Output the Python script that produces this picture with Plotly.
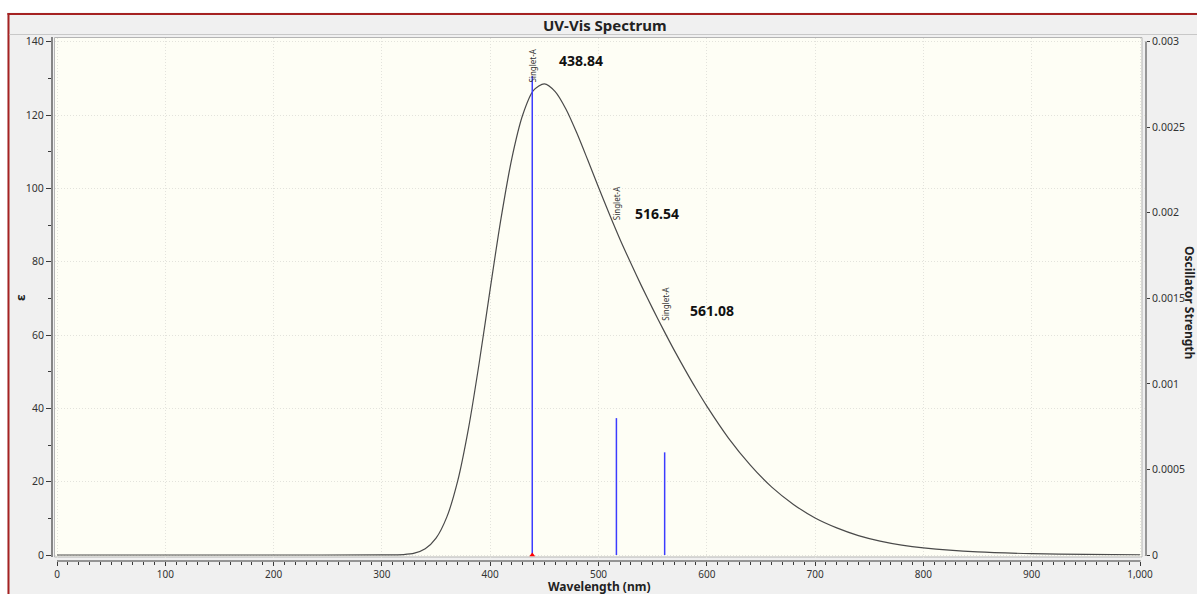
import plotly.graph_objects as go
import numpy as np

# Broadened absorption spectrum: molar absorptivity vs wavelength
wavelength_nm = [0, 100, 200, 300, 320, 330, 340, 350, 360, 370, 380, 390, 400,
                 410, 420, 430, 440, 450, 460, 470, 480, 490, 500, 510, 520, 530,
                 540, 550, 560, 570, 580, 590, 600, 620, 640, 660, 680, 700, 720,
                 740, 760, 780, 800, 850, 900, 950, 1000]
epsilon = [0, 0, 0, 0.02, 0.12, 0.5, 1.7, 4.6, 10.4, 20.2, 34.6, 52.7, 72.6,
           91.8, 108.2, 120.0, 126.7, 128.5, 126.4, 121.6, 115.1, 107.8, 100.3, 93.0, 86.0, 79.5,
           73.2, 67.2, 61.4, 55.8, 50.5, 45.4, 40.6, 31.9, 24.6, 18.5, 13.8, 10.1, 7.4,
           5.3, 3.8, 2.7, 1.95, 0.84, 0.37, 0.17, 0.07]

# Excited states: wavelength, oscillator strength, symmetry label
state_wl = [438.84, 516.54, 561.08]
osc_strength = [0.0028, 0.0008, 0.0006]
state_label = ["Singlet-A", "Singlet-A", "Singlet-A"]

# Right-axis tick labels
osc_ticks = [0, 0.0005, 0.001, 0.0015, 0.002, 0.0025, 0.003]
osc_ticktext = ["0", "0.0005", "0.001", "0.0015", "0.002", "0.0025", "0.003"]

# ---- layout geometry (pixels) ----
W, H = 1197, 594
PL, PR, PT, PB = 52, 1146, 38, 561          # plot box in pixels
X0PX, XSCALE = 57, 1.083                    # pixel of 0 nm, px per nm
Y0PX, YSCALE = 555, 513.3 / 140             # pixel of eps=0, px per unit
OSC_PER_EPS = 0.003 / 140

x_range = [(PL - X0PX) / XSCALE, (PR - X0PX) / XSCALE]
y_range = [-(PB - Y0PX) / YSCALE, (Y0PX - PT) / YSCALE]
y2_range = [v * OSC_PER_EPS for v in y_range]


def px(x):
    return (x - PL) / (PR - PL)


def py(y):
    return (PB - y) / (PB - PT)


FONT = "Noto Sans"
GRID = "#e3e3dc"
GRID_DASH = "1px,2px"

fig = go.Figure()

fig.add_trace(go.Scatter(
    x=wavelength_nm, y=epsilon, mode="lines",
    line=dict(color="#4a4a4a", width=1.2, shape="spline", smoothing=0.8),
    hoverinfo="skip", showlegend=False))

stick_x, stick_y = [], []
for w, f in zip(state_wl, osc_strength):
    stick_x += [w, w, None]
    stick_y += [0, f, None]
fig.add_trace(go.Scatter(
    x=stick_x, y=stick_y, yaxis="y2", mode="lines",
    line=dict(color="#3c3cff", width=1.5), hoverinfo="skip", showlegend=False))

fig.add_trace(go.Scatter(
    x=[state_wl[0]], y=[0], yaxis="y2", mode="markers",
    marker=dict(symbol="triangle-up", color="#ff0000", size=5),
    hoverinfo="skip", showlegend=False))

shapes = [
    # white strip and dark-red window frame
    dict(type="rect", xref="paper", yref="paper", x0=px(0), x1=px(W), y0=py(0), y1=py(12.5),
         fillcolor="#ffffff", line=dict(width=0), layer="below"),
    dict(type="rect", xref="paper", yref="paper", x0=px(0), x1=px(7), y0=py(0), y1=py(H),
         fillcolor="#ffffff", line=dict(width=0), layer="below"),
    dict(type="line", xref="paper", yref="paper", x0=px(7.5), x1=px(W), y0=py(14), y1=py(14),
         line=dict(color="#a52222", width=2)),
    dict(type="line", xref="paper", yref="paper", x0=px(8.5), x1=px(8.5), y0=py(13), y1=py(H),
         line=dict(color="#a52222", width=2)),
    # separator below the title band
    dict(type="line", xref="paper", yref="paper", x0=px(9.5), x1=px(W), y0=py(34.5), y1=py(34.5),
         line=dict(color="#c8c8c8", width=1)),
    # cream plotting panel
    dict(type="rect", xref="paper", yref="paper", x0=px(54.5), x1=px(1142), y0=py(557), y1=py(37.5),
         fillcolor="#fefef5", line=dict(color="#b4b4b4", width=1), layer="below"),
    # axis lines
    dict(type="line", xref="paper", yref="paper", x0=px(52), x1=px(52), y0=py(557), y1=py(37),
         line=dict(color="#858585", width=2)),
    dict(type="line", xref="paper", yref="paper", x0=px(1146), x1=px(1146), y0=py(556), y1=py(41.5),
         line=dict(color="#3a3a3a", width=1)),
    dict(type="line", xref="paper", yref="paper", x0=px(57), x1=px(1140.5), y0=py(561), y1=py(561),
         line=dict(color="#3a3a3a", width=1)),
]

annotations = [
    dict(text="<b>UV-Vis Spectrum</b>", xref="paper", yref="paper", x=px(605), y=py(25),
         xanchor="center", yanchor="middle", showarrow=False,
         font=dict(family=FONT, size=15, color="#222222")),
    dict(text="<b>Wavelength (nm)</b>", xref="paper", yref="paper", x=px(599), y=py(586),
         xanchor="center", yanchor="middle", showarrow=False, borderpad=0,
         font=dict(family=FONT, size=12, color="#222222")),
    dict(text="<b>ε</b>", xref="paper", yref="paper", x=px(20), y=py(298), textangle=-90,
         xanchor="center", yanchor="middle", showarrow=False,
         font=dict(family=FONT, size=13, color="#222222")),
    dict(text="<b>Oscillator Strength</b>", xref="paper", yref="paper", x=px(1190), y=py(302),
         textangle=90, xanchor="center", yanchor="middle", showarrow=False, borderpad=0,
         font=dict(family=FONT, size=12, color="#222222")),
]

# state labels sit just above the spectrum; wavelength values to their right
value_dx = [25, 17, 23]
value_y = [135.0, 93.2, 66.8]
for w, lab, dx, vy in zip(state_wl, state_label, value_dx, value_y):
    ey = float(np.interp(w, wavelength_nm, epsilon))
    annotations.append(dict(
        text=lab, x=w, y=ey, xref="x", yref="y", textangle=-90, showarrow=False,
        xanchor="center", yanchor="bottom", yshift=9,
        font=dict(family=FONT, size=8, color="#333333")))
    annotations.append(dict(
        text=f"<b>{w:.2f}</b>", x=w, y=vy, xref="x", yref="y", showarrow=False,
        xanchor="left", yanchor="middle", xshift=dx,
        font=dict(family=FONT, size=14, color="#111111")))

tickfont = dict(family=FONT, size=10.5, color="#333333")
xtickfont = dict(family=FONT, size=10, color="#333333")

fig.update_layout(
    width=W, height=H,
    margin=dict(l=PL, r=W - PR, t=PT, b=H - PB, pad=0),
    paper_bgcolor="#f0f0f0", plot_bgcolor="rgba(0,0,0,0)",
    showlegend=False,
    shapes=shapes, annotations=annotations,
    xaxis=dict(range=x_range, tick0=0, dtick=100, tickformat=",",
               ticks="outside", ticklen=4, tickcolor="#3a3a3a", tickwidth=1,
               minor=dict(ticks="outside", ticklen=3, dtick=10, tick0=0,
                          tickcolor="#3a3a3a", showgrid=False),
               showgrid=True, gridcolor=GRID, griddash=GRID_DASH, gridwidth=1,
               zeroline=False, showline=False, tickfont=xtickfont, fixedrange=True),
    yaxis=dict(range=y_range, tick0=0, dtick=20,
               ticks="outside", ticklen=5, tickcolor="#3a3a3a", tickwidth=1,
               minor=dict(ticks="outside", ticklen=3, dtick=10, tick0=0,
                          tickcolor="#3a3a3a", showgrid=False),
               showgrid=True, gridcolor=GRID, griddash=GRID_DASH, gridwidth=1,
               zeroline=False, showline=False, tickfont=tickfont, fixedrange=True),
    yaxis2=dict(range=y2_range, overlaying="y", side="right",
                tickmode="array", tickvals=osc_ticks, ticktext=osc_ticktext,
                ticks="outside", ticklen=3, tickcolor="#3a3a3a", tickwidth=1,
                showgrid=False, zeroline=False, showline=False,
                tickfont=tickfont, fixedrange=True),
)

fig.write_html("out.html")
